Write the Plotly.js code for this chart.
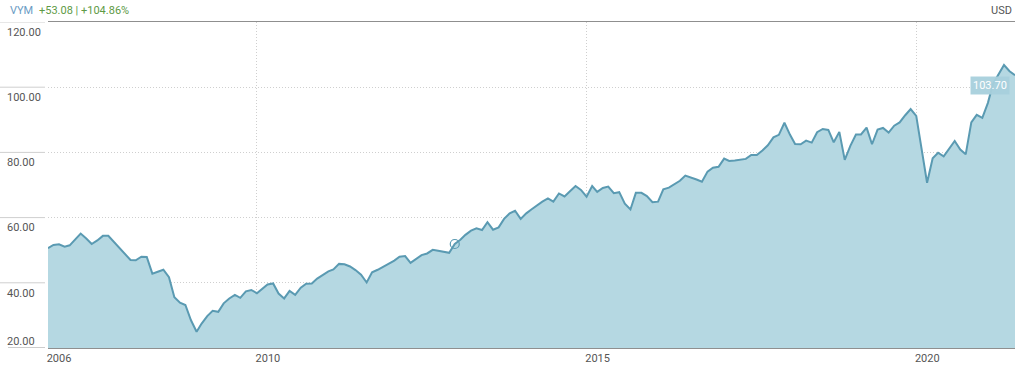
<!DOCTYPE html>
<html>
<head>
<meta charset="utf-8">
<script src="https://cdn.plot.ly/plotly-3.0.1.min.js"></script>
<style>html,body{margin:0;padding:0;background:#fff;}#chart{width:1024px;height:370px;}</style>
</head>
<body>
<div id="chart"></div>
<script>
// Monthly closing values of VYM, Nov 2006 .. Jul 2021
const firstMonth = '2006-11';
const values = [
  50.62, 51.6, 51.8, 51.1, 51.5, 53.4, 55.1, 53.6, 51.9, 53.0, 54.4, 54.4,
  52.6, 50.9, 49.0, 47.0, 46.9, 48.0, 47.9, 42.8, 43.4, 44.0, 41.7, 35.6,
  33.9, 33.2, 28.5, 25.0, 27.5, 29.8, 31.4, 31.1, 33.7, 35.2, 36.3, 35.4,
  37.4, 37.8, 36.8, 38.3, 39.5, 39.8, 36.7, 35.2, 37.5, 36.3, 38.5, 39.7,
  39.8, 41.3, 42.3, 43.5, 44.1, 45.8, 45.7, 45.0, 43.9, 42.5, 40.1, 43.2,
  44.0, 44.9, 45.7, 46.8, 48.0, 48.2, 46.1, 47.4, 48.5, 49.0, 50.1, 49.8,
  49.5, 49.2, 51.9, 53.2, 54.7, 56.0, 56.7, 56.2, 58.6, 56.3, 57.0, 59.6,
  61.3, 62.1, 59.6, 61.3, 62.5, 63.8, 64.9, 65.9, 64.9, 67.4, 66.5, 68.1,
  69.7, 68.5, 66.4, 69.7, 67.9, 69.1, 69.5, 67.5, 67.8, 64.3, 62.5, 67.6,
  67.6, 66.6, 64.7, 64.9, 68.7, 69.2, 70.2, 71.3, 72.9, 72.4, 71.7, 71.0,
  74.1, 75.3, 75.6, 78.1, 77.4, 77.5, 77.7, 78.0, 79.2, 79.2, 80.6, 82.2,
  84.6, 85.4, 89.1, 85.4, 82.6, 82.5, 83.6, 83.0, 86.2, 87.2, 86.9, 83.1,
  86.3, 77.7, 82.0, 85.5, 85.5, 87.6, 82.5, 87.0, 87.5, 86.1, 88.2, 89.2,
  91.4, 93.3, 91.2, 80.8, 70.7, 78.2, 79.9, 78.8, 81.2, 83.5, 80.9, 79.4,
  89.2, 91.5, 90.6, 95.2, 101.0, 104.0, 106.8, 104.9, 103.7
];
const markerDates = ['2013-01-01'];
const markerValues = [51.9];
const yTicks = [20, 40, 60, 80, 100, 120];
const yTickText = ['', '40.00', '60.00', '80.00', '100.00', '120.00'];
const xTickDates = ['2010-01-01', '2015-01-01', '2020-01-01'];
const xTickText = ['2006', '2010', '2015', '2020'];
const symbol = 'VYM';
const changeText = '+53.08 | +104.86%';
const currency = 'USD';
const lastLabel = '103.70';

// build month dates
const dates = [];
(function(){
  let y = parseInt(firstMonth.slice(0,4)), m = parseInt(firstMonth.slice(5,7));
  for (let i = 0; i < values.length; i++) {
    dates.push(y + '-' + String(m).padStart(2,'0') + '-01');
    m++; if (m > 12) { m = 1; y++; }
  }
})();

const font = 'Roboto, Liberation Sans, sans-serif';
const fs = 11;
const lineColor = '#5a9ab2';
const fillColor = '#b5d8e2';
const gridDash = '1px,2px';

const traces = [
  {
    x: dates, y: values, type: 'scatter', mode: 'lines',
    line: {color: lineColor, width: 2},
    fill: 'tozeroy', fillcolor: fillColor,
    hoverinfo: 'skip'
  },
  {
    x: markerDates, y: markerValues, type: 'scatter', mode: 'markers',
    marker: {symbol: 'circle-open', size: 9, color: lineColor, line: {width: 1.2, color: lineColor}},
    hoverinfo: 'skip'
  }
];

const W = 1015;
const H = 326;
const shapes = yTicks.map((v, i) => ({
  type: 'line', xref: 'paper', yref: 'y',
  x0: (i === 0 ? 8 : 0) / W, x1: 45 / W, y0: v, y1: v,
  line: {color: i === 0 ? '#9a9a9a' : '#cfcfcf', width: 1}
}));

const layout = {
  width: 1024, height: 370,
  margin: {l: 0, r: 9, t: 22, b: 22, pad: 0},
  paper_bgcolor: '#fff', plot_bgcolor: '#fff',
  showlegend: false,
  font: {family: font, size: fs, color: '#555'},
  xaxis: {
    domain: [48 / W, 1],
    type: 'date',
    range: [dates[0], dates[dates.length - 1]],
    tickvals: [dates[0]].concat(xTickDates),
    ticktext: xTickText,
    ticks: '',
    ticklabelshift: 11,
    showgrid: true, gridcolor: '#cfcfcf', griddash: gridDash, gridwidth: 1,
    showline: true, linecolor: '#8f8f8f', linewidth: 1, mirror: true,
    zeroline: false,
    tickfont: {family: font, size: fs, color: '#555'},
    fixedrange: true
  },
  yaxis: {
    range: [20, 120],
    anchor: 'free', position: 0, side: 'right',
    tickvals: yTicks, ticktext: yTickText,
    ticks: '',
    ticklabelstandoff: 6,
    ticklabelshift: 10,
    showgrid: true, gridcolor: '#cfcfcf', griddash: gridDash, gridwidth: 1,
    showline: false, zeroline: false,
    tickfont: {family: font, size: fs, color: '#555'},
    fixedrange: true
  },
  yaxis2: {
    overlaying: 'y', range: [20, 120],
    anchor: 'free', position: 0, side: 'right',
    tickvals: [yTicks[0]], ticktext: [yTicks[0].toFixed(2)],
    ticks: '', ticklabelstandoff: 6, ticklabelshift: -7,
    showgrid: false, showline: false, zeroline: false,
    tickfont: {family: font, size: fs, color: '#555'},
    fixedrange: true
  },
  shapes: shapes,
  annotations: [
    {xref: 'paper', yref: 'paper', x: 8 / W, y: 1 + 11 / H, xanchor: 'left', yanchor: 'middle',
     text: symbol, showarrow: false, font: {family: font, size: fs, color: '#6b9cc4'}},
    {xref: 'paper', yref: 'paper', x: 37 / W, y: 1 + 11 / H, xanchor: 'left', yanchor: 'middle',
     text: changeText, showarrow: false, font: {family: font, size: fs, color: '#5e9a45'}},
    {xref: 'paper', yref: 'paper', x: 1, y: 1 + 11 / H, xanchor: 'right', yanchor: 'middle', xshift: -1,
     text: currency, showarrow: false, font: {family: font, size: fs, color: '#555'}},
    {xref: 'x', yref: 'y', x: dates[dates.length - 1], y: values[values.length - 1],
     xanchor: 'right', yanchor: 'top', xshift: -5, yshift: -1,
     text: lastLabel, showarrow: false, bgcolor: 'rgba(168,208,220,0.95)',
     borderpad: 2, font: {family: font, size: fs, color: '#ffffff'}}
  ]
};

// invisible trace so yaxis2 renders
traces.push({x: [dates[0]], y: [20], yaxis: 'y2', mode: 'markers', marker: {opacity: 0}, hoverinfo: 'skip'});

Plotly.newPlot('chart', traces, layout, {staticPlot: true, displayModeBar: false});
</script>
</body>
</html>
